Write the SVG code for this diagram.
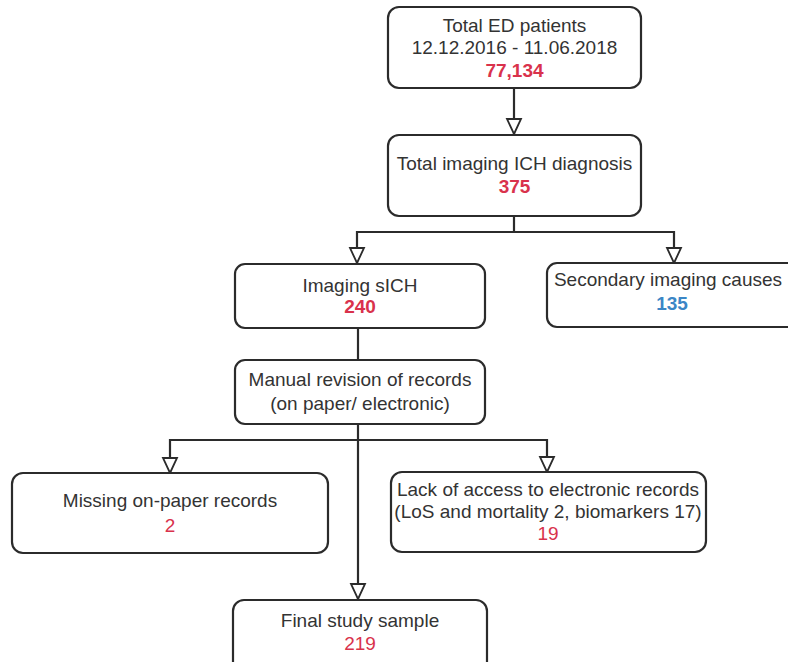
<svg xmlns="http://www.w3.org/2000/svg" width="788" height="662" viewBox="0 0 788 662">
<style>
.box{fill:#fff;stroke:#2b2b2b;stroke-width:2.2}
.t{font-family:"Liberation Sans",Arial,sans-serif;font-size:19px;fill:#333;text-anchor:middle}
.r{fill:#d9324c}
.b{fill:#3b86c6}
.bold{font-weight:bold}
.c{fill:none;stroke:#2b2b2b;stroke-width:2.2}
</style>
<defs>
<marker id="ah" markerUnits="userSpaceOnUse" markerWidth="20" markerHeight="20" viewBox="-18 -10 20 20" refX="0" refY="0" orient="auto">
<path d="M0 0 L-15 -7 L-15 7 Z" fill="#fff" stroke="#2b2b2b" stroke-width="1.8" stroke-linejoin="miter"/>
</marker>
</defs>
<rect width="788" height="662" fill="#fff"/>
<g id="connectors">
<path class="c" d="M514 88 V134" marker-end="url(#ah)"/>
<path class="c" d="M514 215 V232 H357 V263" marker-end="url(#ah)"/>
<path class="c" d="M514 232 H674 V263" marker-end="url(#ah)"/>
<path class="c" d="M358 328 V360"/>
<path class="c" d="M358 424 V599" marker-end="url(#ah)"/>
<path class="c" d="M358 440 H170 V473" marker-end="url(#ah)"/>
<path class="c" d="M358 440 H547 V472" marker-end="url(#ah)"/>
</g>
<g id="n1">
<rect class="box" x="388" y="7" width="253" height="81" rx="11"/>
<text class="t" x="514.5" y="32">Total ED patients</text>
<text class="t" x="514.5" y="54">12.12.2016 - 11.06.2018</text>
<text class="t r bold" x="514.5" y="77">77,134</text>
</g>
<g id="n2">
<rect class="box" x="388" y="135" width="253" height="81" rx="11"/>
<text class="t" x="514.5" y="170">Total imaging ICH diagnosis</text>
<text class="t r bold" x="514.5" y="193">375</text>
</g>
<g id="n3">
<rect class="box" x="235" y="264" width="250" height="64" rx="10"/>
<text class="t" x="360" y="292">Imaging sICH</text>
<text class="t r bold" x="360" y="313">240</text>
</g>
<g id="n4">
<rect class="box" x="547" y="263" width="260" height="64" rx="10"/>
<text class="t" x="668" y="286">Secondary imaging causes</text>
<text class="t b bold" x="672" y="310">135</text>
</g>
<g id="n5">
<rect class="box" x="235" y="360" width="250" height="64" rx="10"/>
<text class="t" x="360" y="386">Manual revision of records</text>
<text class="t" x="360" y="410">(on paper/ electronic)</text>
</g>
<g id="n6">
<rect class="box" x="12" y="473" width="316" height="80" rx="11"/>
<text class="t" x="170" y="507">Missing on-paper records</text>
<text class="t r" x="170" y="532">2</text>
</g>
<g id="n7">
<rect class="box" x="391" y="472" width="315" height="80" rx="11"/>
<text class="t" x="548" y="496">Lack of access to electronic records</text>
<text class="t" x="548" y="518">(LoS and mortality 2, biomarkers 17)</text>
<text class="t r" x="548" y="540">19</text>
</g>
<g id="n8">
<rect class="box" x="233" y="600" width="254" height="80" rx="11"/>
<text class="t" x="360" y="627">Final study sample</text>
<text class="t r" x="360" y="650">219</text>
</g>
</svg>
